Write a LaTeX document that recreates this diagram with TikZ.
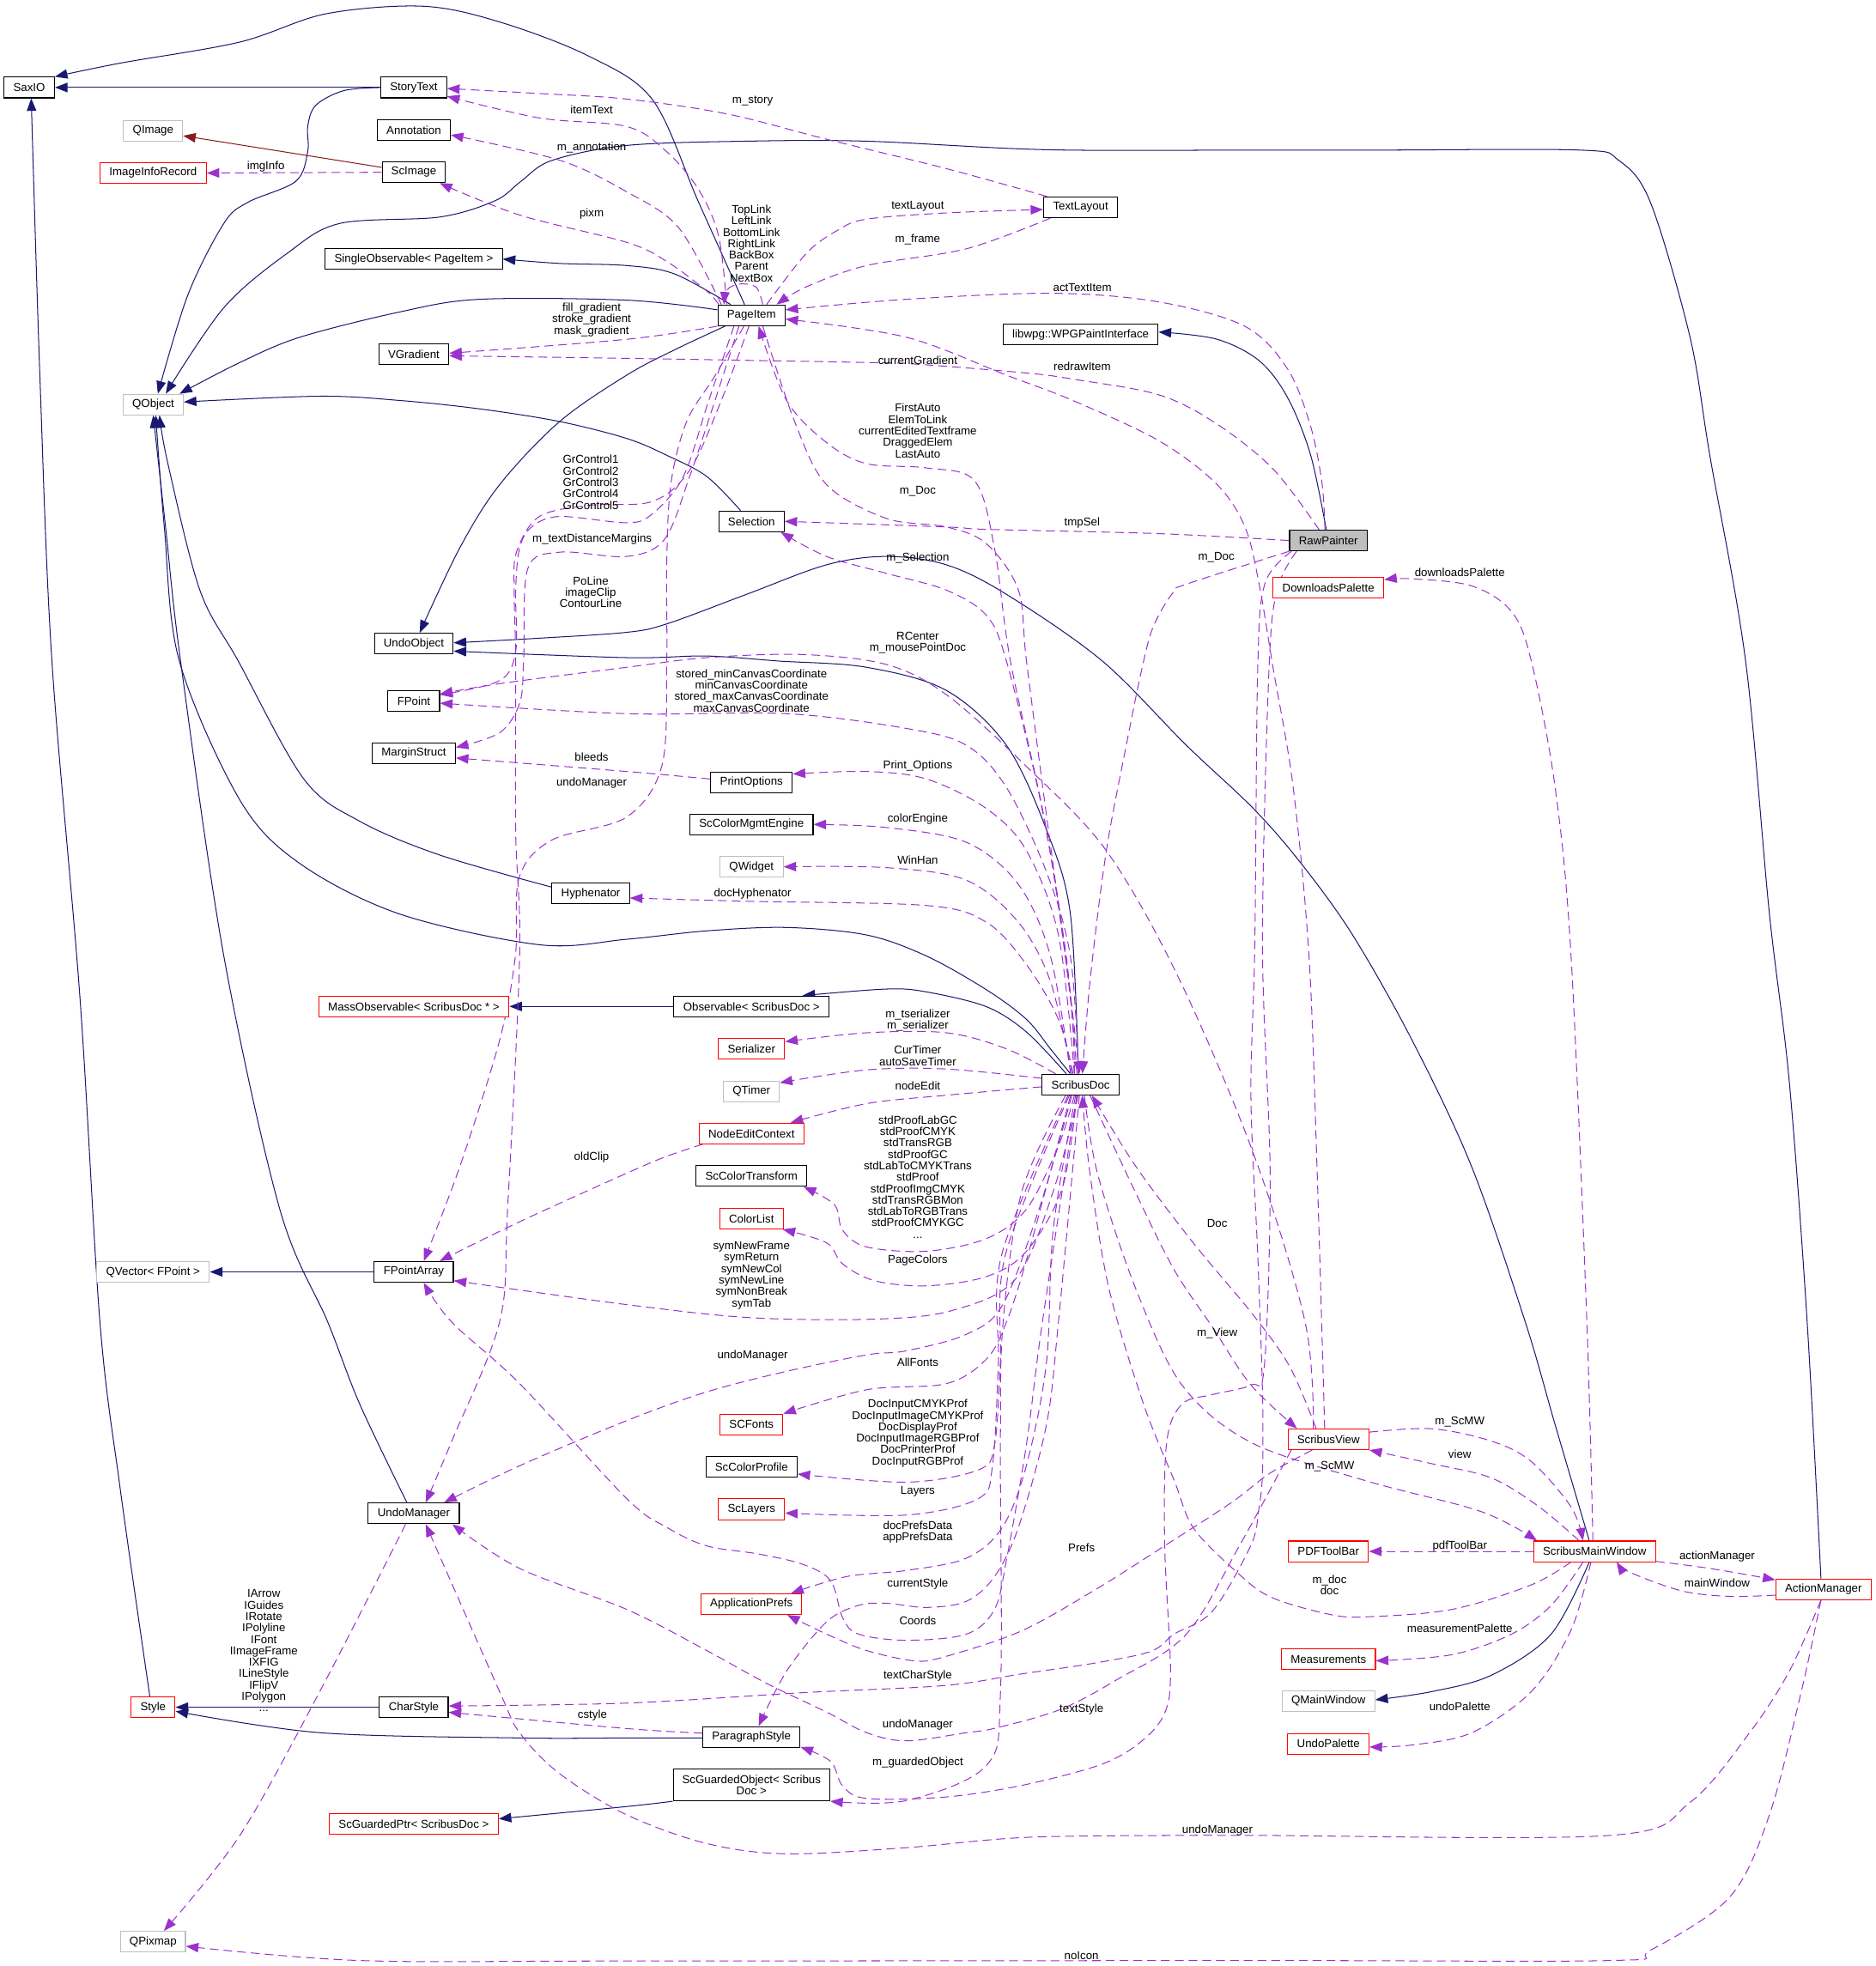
\documentclass[tikz,border=0pt]{standalone}
\usepackage{fontspec}
\setmainfont{Liberation Sans}
\usetikzlibrary{arrows.meta}
\definecolor{inhc}{HTML}{191970}
\definecolor{usec}{HTML}{9A32CD}
\definecolor{privc}{HTML}{8B1A1A}
\definecolor{grayb}{HTML}{BFBFBF}
\pgfdeclarelayer{edgelayer}
\pgfsetlayers{edgelayer,main}
\newcommand{\dgfont}{\fontsize{9.1}{9.1}\selectfont}
\begin{document}
\begin{tikzpicture}[x=1pt,y=-1pt,
  nbox/.style={draw=black,line width=0.75pt,minimum height=16.5pt,inner sep=0pt,font=\dgfont,fill=white},
  rbox/.style={nbox,draw=red,line width=0.7pt},
  gbox/.style={nbox,draw=grayb,line width=0.7pt},
  arrtip/.style={-{Triangle[length=10pt,width=7.5pt]}},
  inh/.style={draw=inhc,line width=0.7pt,arrtip},
  prv/.style={draw=privc,line width=0.7pt,arrtip},
  usage/.style={draw=usec,line width=0.7pt,dash pattern=on 7pt off 4pt,arrtip},
  lbl/.style={font=\dgfont,inner sep=0pt,align=center}]
\useasboundingbox (0,0) rectangle (1496,1568);
% ---------------- nodes
\node[nbox,minimum width=40.2pt] (SaxIO) at (23.3,69.8) {SaxIO};
\node[nbox,minimum width=52.3pt] (StoryText) at (330,69.8) {StoryText};
\node[gbox,minimum width=47.2pt] (QImage) at (122.1,104.4) {QImage};
\node[nbox,minimum width=58.3pt] (Annotation) at (330,103.7) {Annotation};
\node[rbox,minimum width=84.8pt] (ImageInfoRecord) at (122.1,138) {ImageInfoRecord};
\node[nbox,minimum width=50.4pt] (ScImage) at (330,137.4) {ScImage};
\node[nbox,minimum width=141.2pt] (SingleObs) at (330,206.6) {SingleObservable< PageItem >};
\node[nbox,minimum width=55.8pt] (VGradient) at (330,282.3) {VGradient};
\node[gbox,minimum width=48.1pt] (QObject) at (122.2,322.6) {QObject};
\node[nbox,minimum width=62.8pt] (UndoObject) at (330,513.3) {UndoObject};
\node[nbox,minimum width=41.1pt] (FPoint) at (330,559) {FPoint};
\node[nbox,minimum width=66.3pt] (MarginStruct) at (330,600.7) {MarginStruct};
\node[nbox,minimum width=61.8pt] (Hyphenator) at (471.1,712.5) {Hyphenator};
\node[rbox,minimum width=151.8pt] (MassObs) at (330,802.7) {MassObservable< ScribusDoc * >};
\node[gbox,minimum width=89.9pt] (QVector) at (122.1,1014.4) {QVector< FPoint >};
\node[nbox,minimum width=63.1pt] (FPointArray) at (330,1014.4) {FPointArray};
\node[nbox,minimum width=72.6pt] (UndoManager) at (330,1207) {UndoManager};
\node[rbox,minimum width=35.1pt] (Style) at (122.1,1361.6) {Style};
\node[nbox,minimum width=54.8pt] (CharStyle) at (330,1361.6) {CharStyle};
\node[rbox,minimum width=134.8pt] (ScGuardedPtr) at (330,1454.6) {ScGuardedPtr< ScribusDoc >};
\node[gbox,minimum width=51.6pt] (QPixmap) at (122.1,1548.6) {QPixmap};
\node[nbox,minimum width=53.5pt] (PageItem) at (599.3,251.5) {PageItem};
\node[nbox,minimum width=52pt] (Selection) at (599.3,415.8) {Selection};
\node[nbox,minimum width=65pt] (PrintOptions) at (599.3,623.9) {PrintOptions};
\node[nbox,minimum width=98.2pt] (ScColorMgmtEngine) at (599.3,657.5) {ScColorMgmtEngine};
\node[gbox,minimum width=50.4pt] (QWidget) at (599.3,691.3) {QWidget};
\node[nbox,minimum width=123.7pt] (Observable) at (599.3,802.7) {Observable< ScribusDoc >};
\node[rbox,minimum width=52.9pt] (Serializer) at (599.3,836.4) {Serializer};
\node[gbox,minimum width=44.6pt] (QTimer) at (599.3,870.5) {QTimer};
\node[rbox,minimum width=83.8pt] (NodeEditContext) at (599.3,904) {NodeEditContext};
\node[nbox,minimum width=88.3pt] (ScColorTransform) at (599.3,937.9) {ScColorTransform};
\node[rbox,minimum width=51pt] (ColorList) at (599.3,971.9) {ColorList};
\node[rbox,minimum width=50pt] (SCFonts) at (599.3,1136.1) {SCFonts};
\node[nbox,minimum width=72.7pt] (ScColorProfile) at (599.3,1169.8) {ScColorProfile};
\node[rbox,minimum width=52.9pt] (ScLayers) at (599.3,1203.7) {ScLayers};
\node[rbox,minimum width=80.3pt] (ApplicationPrefs) at (599.3,1279.4) {ApplicationPrefs};
\node[nbox,minimum width=77.4pt] (ParagraphStyle) at (599.3,1385.3) {ParagraphStyle};
\node[nbox,minimum width=124.9pt,minimum height=25.2pt,align=center] (ScGuardedObject) at (599.3,1423.6) {ScGuardedObject< Scribus\\Doc >};
\node[nbox,minimum width=59pt] (TextLayout) at (861.8,165.3) {TextLayout};
\node[nbox,minimum width=123.6pt] (libwpg) at (861.8,266.8) {libwpg::WPGPaintInterface};
\node[nbox,minimum width=61.5pt] (ScribusDoc) at (861.8,865) {ScribusDoc};
\node[nbox,fill=grayb,minimum width=62pt] (RawPainter) at (1059.4,431.1) {RawPainter};
\node[rbox,minimum width=88.3pt] (DownloadsPalette) at (1059.4,468.6) {DownloadsPalette};
\node[rbox,minimum width=64.6pt] (ScribusView) at (1059.4,1147.9) {ScribusView};
\node[rbox,minimum width=63.9pt] (PDFToolBar) at (1059.4,1237.3) {PDFToolBar};
\node[rbox,minimum width=75pt] (Measurements) at (1059.4,1323.3) {Measurements};
\node[gbox,minimum width=74.1pt] (QMainWindow) at (1059.4,1356.7) {QMainWindow};
\node[rbox,minimum width=64.9pt] (UndoPalette) at (1059.4,1390.7) {UndoPalette};
\node[rbox,minimum width=97.2pt] (SMW) at (1271.7,1237.3) {ScribusMainWindow};
\node[rbox,minimum width=76pt] (ActionManager) at (1454.2,1267.6) {ActionManager};
% ---------------- edges
\begin{pgfonlayer}{edgelayer}
% inheritance
\draw[inh] (StoryText.west) -- (SaxIO.east);
\draw[inh] plot[smooth,tension=.55] coordinates {([xshift=-5.5pt]PageItem.north) (557,161) (520.5,79.7) (470,45) (400,18) (338,5) (260,11) (191,33.6) (95.6,50.4) (SaxIO.north east)};
\draw[inh] plot[smooth,tension=.55] coordinates {(StoryText.west) (274.1,72.3) (251.8,84) (245.4,100.9) (245.4,121) (235.9,144.6) (197.6,161.4) (178.5,178.2) (149.8,235.3) ([xshift=3.7pt]QObject.north)};
\draw[inh] plot[smooth,tension=.55] coordinates {([xshift=-2pt]ActionManager.north) (1441.2,1054.4) (1427,863.4) (1411.1,728.9) (1392.1,527.2) (1363.6,363.4) (1347.8,269) (1316.2,161.4) (1290.8,127.8) (1260,119.7) (1100,119.7) (999.6,119.7) (834.5,119.4) (691,112.6) (595.4,112.6) (499.8,116) (440,128) (415,145) (395,160) (350.6,173.1) (271,178.2) (229.5,201.7) (178.5,245.4) ([xshift=10pt]QObject.north)};
\draw[inh] plot[smooth,tension=.55] coordinates {([yshift=4.4pt]PageItem.west) (499.8,239.4) (382.5,238.7) (318.8,248.8) (239,269) (191.3,289.1) ([xshift=21pt]QObject.north)};
\draw[inh] plot[smooth,tension=.55] coordinates {([xshift=-8.7pt]Selection.north) (563.5,379.9) (531.7,363.1) (499.8,349.7) (446.3,336.2) (382.5,326.1) (318.8,319.4) (255,316) ([yshift=2pt]QObject.east)};
\draw[inh] plot[smooth,tension=.55] coordinates {([yshift=5pt]Hyphenator.west) (350.6,681.9) (286.9,655) (242.3,621.3) (190,527.2) (159.4,470.7) (133.9,369.8) ([xshift=5pt]QObject.south)};
\draw[inh] plot[smooth,tension=.55] coordinates {([xshift=-8.2pt]ScribusDoc.north) (837.7,836.5) (818.6,813) (786.7,789.4) (738.9,762.5) (691.1,745.7) (627.3,739.7) (563.6,742.4) (499.8,749.1) (430.3,753.5) (318.8,729) (239,688.6) (191.3,638.1) (143,527.2) (131,420) ([xshift=2pt]QObject.south)};
\draw[inh] plot[smooth,tension=.55] coordinates {([xshift=-5.5pt]UndoManager.north) (286.9,1119.9) (261.4,1054.4) (223.1,964.3) (178.5,762.5) (144,527.2) (132,420) (QObject.south)};
\draw[inh] plot[smooth,tension=.55] coordinates {([xshift=-16.6pt]PageItem.north) (538,218.5) (499.8,211.8) (446.3,210.1) (SingleObs.east)};
\draw[inh] plot[smooth,tension=.55] coordinates {([xshift=-21pt]PageItem.south) (538,279) (499.8,299.2) (446.3,336.2) (398.4,386.6) (366.6,437.1) ([xshift=4.7pt]UndoObject.north)};
\draw[inh] plot[smooth,tension=.55] coordinates {([xshift=-1.8pt]ScribusDoc.north) (853.6,728.9) (834.5,661.7) (802.6,594.4) (754.8,550.7) (691.1,532.2) (620.9,527.2) (563.5,523.2) (499.8,524.5) ([yshift=-6pt]UndoObject.east)};
\draw[inh] plot[smooth,tension=.55] coordinates {([xshift=-4.3pt]SMW.north) (1240.2,1136.3) (1216.4,1054.4) (1173.7,930.7) (1126.2,829.8) (1078.7,745.7) (1037.6,688.6) (999.6,644.9) (946.1,594.4) (879.1,527.2) (802.6,474) (754.8,450.5) (706.9,443.8) (659,450.5) (595.4,474) (531.7,497.6) (499.8,504.3) (430,509) ([yshift=0.6pt]UndoObject.east)};
\draw[inh] plot[smooth,tension=.55] coordinates {([xshift=-11.4pt]ScribusDoc.north) (818.6,823.1) (786.7,802.9) (738.9,791.1) (707,788.8) ([xshift=40.7pt]Observable.north)};
\draw[inh] (Observable.west) -- (MassObs.east);
\draw[inh] (FPointArray.west) -- (QVector.east);
\draw[prv] ([yshift=3.9pt]ScImage.west) -- ([yshift=-3.9pt]QImage.east);
\draw[inh] plot[smooth,tension=.55] coordinates {([xshift=-1.7pt]RawPainter.north) (1045.2,362.9) (1026.9,317.2) (1004.1,287.6) (969.9,270.4) ([yshift=2pt]libwpg.east)};
\draw[inh] plot[smooth,tension=.55] coordinates {([xshift=-2.6pt]Style.north) (95.6,1185.4) (79.7,1054.4) (63.8,796.2) (41.4,527.2) (31.9,302.6) ([xshift=1.6pt]SaxIO.south)};
\draw[inh] (CharStyle.west) -- (Style.east);
\draw[inh] plot[smooth,tension=.55] coordinates {([yshift=-0.8pt]ParagraphStyle.west) (499.8,1386.1) (414.4,1386.1) (255,1381.9) ([yshift=-3.2pt]Style.east)};
\draw[inh] plot[smooth,tension=.55] coordinates {(ScGuardedObject.south west) (499.8,1440.8) ([yshift=4pt]ScGuardedPtr.east)};
\draw[inh] plot[smooth,tension=.55] coordinates {([xshift=-4.3pt]SMW.south) (1237,1303.3) (1189.5,1336) (1142,1349.1) ([yshift=1pt]QMainWindow.east)};
% usage
\draw[usage] plot[smooth,tension=.55] coordinates {([xshift=-19.8pt]PageItem.north) (573.1,188.3) (557.2,151.3) (531.7,121) (499.8,100.9) (430.3,94.1) ([yshift=-7pt]StoryText.east)};
\draw[usage] plot[smooth,tension=.55] coordinates {([xshift=3pt]TextLayout.north west) (754.8,134.5) (659,111) (579.5,90.8) (499.8,79) (430.3,74.6) ([yshift=-0.8pt]StoryText.east)};
\draw[usage] (ScImage.west) -- (ImageInfoRecord.east);
\draw[usage] plot[smooth,tension=.55] coordinates {([xshift=-24pt]PageItem.north) (541.2,181.6) (499.8,153) (446.3,127.8) ([yshift=-3.9pt]Annotation.east)};
\draw[usage] plot[smooth,tension=.55] coordinates {([xshift=1pt]PageItem.north west) (563.5,232) (531.7,208.5) (499.8,193.3) (414.4,171.5) ([xshift=-5pt]ScImage.south east)};
\draw[usage] plot[smooth,tension=.55] coordinates {([xshift=9pt]PageItem.north) (603,229) (590,226.5) (580,231) ([xshift=-22pt]PageItem.north)};
\draw[usage] plot[smooth,tension=.55] coordinates {([xshift=12pt]PageItem.north) (643.4,201.7) (668.8,183.2) (691.1,174.8) (754.8,169.8) ([yshift=-1.8pt]TextLayout.west)};
\draw[usage] plot[smooth,tension=.55] coordinates {([xshift=-24pt]TextLayout.south) (770.7,198.4) (691.1,211.8) (643.4,228.6) ([xshift=20pt]PageItem.north)};
\draw[usage] plot[smooth,tension=.55] coordinates {([xshift=-2.8pt]RawPainter.north) (1054.3,385.7) (1045.2,340) (1026.9,294.4) (992.7,260.2) (924.2,240.8) (839.8,233.9) (722.9,238.7) ([yshift=4.4pt]PageItem.east)};
\draw[usage] plot[smooth,tension=.55] coordinates {([xshift=-3pt]ScribusView.north) (1050.3,930.7) (1043.9,762.5) (1031.3,628) (1015.5,534) (1004.1,465.6) (992.7,419.9) (969.9,385.7) (924.2,351.5) (855.8,319.5) (802.6,299.2) (722.9,269) ([yshift=-3pt]PageItem.east)};
\draw[usage] plot[smooth,tension=.55] coordinates {([xshift=-7.4pt]RawPainter.north) (1015.5,374.3) (969.9,337.8) (924.2,314.9) (855.8,302.4) (818.6,297.5) (731.9,290.5) (691.1,289.1) (499.8,285.8) ([yshift=-1.5pt]VGradient.east)};
\draw[usage] plot[smooth,tension=.55] coordinates {(PageItem.south west) (499.8,270.6) ([yshift=0.6pt]VGradient.east)};
\draw[usage] plot[smooth,tension=.55] coordinates {(RawPainter.west) (924.2,425.6) (787.3,422.2) (754.8,420.3) (Selection.east)};
\draw[usage] plot[smooth,tension=.55] coordinates {(RawPainter.south west) (947.1,465.6) (935.6,472.4) (919.7,499.8) (910.5,534) (898.2,594.4) (882.3,678.5) (869.6,779.4) ([xshift=1.4pt]ScribusDoc.north)};
\draw[usage] plot[smooth,tension=.55] coordinates {([xshift=-5pt]ScribusDoc.north) (853.6,796.2) (834.5,661.7) (805.8,527.2) (793.1,437.1) (777.1,383.3) (738.9,373.2) (691.1,369.8) (659.2,353) (627.3,319.4) ([xshift=5.7pt]PageItem.south)};
\draw[usage] plot[smooth,tension=.55] coordinates {([xshift=9pt]PageItem.south) (633.7,336.2) (659.2,386.6) (707,413.5) (754.8,420.3) (786.7,433.7) (812.2,470.7) (818.6,527.2) (834.5,650) (852,780) ([xshift=-1pt]ScribusDoc.north)};
\draw[usage] plot[smooth,tension=.55] coordinates {([xshift=-3pt]ScribusDoc.north) (850,760) (830,640) (802.6,527.2) (786.7,490.9) (754.8,470.7) (707,457.3) (659.2,443.8) ([xshift=-3pt]Selection.south east)};
\draw[usage] plot[smooth,tension=.55] coordinates {([xshift=-14pt]PageItem.south) (565,320) (545,380) (520,410) (499.8,416.9) (446.3,411.9) (424,420.3) (414.4,437.1) (411.2,470.7) (411.2,520) (398,543) ([yshift=4.9pt]FPoint.east)};
\draw[usage] plot[smooth,tension=.55] coordinates {([xshift=-10pt]PageItem.south) (570,320) (550,380) (530,430) (499.8,443.8) (446.3,440.4) (420.8,453.9) (417.6,527.2) (414.4,560.8) (398.4,584.4) ([yshift=4.6pt]MarginStruct.east)};
\draw[usage] plot[smooth,tension=.55] coordinates {([xshift=-6pt]PageItem.south) (570,300) (547.6,336.2) (535,386) (531.7,450) (531.7,527.2) (528,610) (499.8,651.6) (440,670) (414,700) (411,762.5) (398.4,829.8) (366.6,930.7) ([xshift=7.9pt]FPointArray.north)};
\draw[usage] plot[smooth,tension=.55] coordinates {([xshift=-2pt]PageItem.south) (575,320) (550,375) (520,400) (470,403) (430,412) (412,440) (410,470) (411.2,527.2) (411.2,661.7) (414.4,762.5) (404.8,964.3) (398.4,1054.4) (360,1150) ([xshift=9.5pt]UndoManager.north)};
\draw[usage] plot[smooth,tension=.55] coordinates {([xshift=-12pt]ScribusView.north) (1040.8,1054.4) (999.6,920) (939.7,779.4) (882.3,678.5) (818.6,611.3) (754.8,554.1) (707,530) (640,522) (563.6,524.5) (499.8,532.2) (400,545) ([yshift=5.5pt]FPoint.east)};
\draw[usage] plot[smooth,tension=.55] coordinates {([xshift=-1.5pt]ScribusDoc.north) (853.6,762.5) (834.5,695.3) (802.6,628) (770.7,594.4) (723,581) (627.3,569.2) (499.8,569.2) ([yshift=-1.8pt]FPoint.east)};
\draw[usage] plot[smooth,tension=.55] coordinates {([yshift=2.6pt]PrintOptions.west) (499.8,615.3) ([yshift=-3.8pt]MarginStruct.east)};
\draw[usage] plot[smooth,tension=.55] coordinates {([xshift=-5pt]ScribusDoc.north) (844.1,745.7) (818.6,678.5) (786.7,644.9) (738.9,621.3) (691.1,615.3) ([yshift=6.6pt]PrintOptions.east)};
\draw[usage] plot[smooth,tension=.55] coordinates {([xshift=-8pt]ScribusDoc.north) (837.7,762.5) (812.2,705.4) (770.7,671.8) (707,660) (ScColorMgmtEngine.east)};
\draw[usage] plot[smooth,tension=.55] coordinates {([xshift=-7pt]ScribusDoc.north) (837.7,782.7) (812.2,735.6) (770.7,702) (707,692) (QWidget.east)};
\draw[usage] plot[smooth,tension=.55] coordinates {([xshift=-6pt]ScribusDoc.north) (844.1,813) (818.6,769.3) (786.7,735.6) (738.9,722.2) (595.4,718.8) ([yshift=-3.7pt]Hyphenator.east)};
\draw[usage] plot[smooth,tension=.55] coordinates {([xshift=-20pt]ScribusDoc.north) (802.6,836.5) (754.8,823.7) (691.1,823.7) ([yshift=5.6pt]Serializer.east)};
\draw[usage] plot[smooth,tension=.55] coordinates {([yshift=5pt]ScribusDoc.west) (754.8,852.6) (691.1,853.3) ([yshift=7pt]QTimer.east)};
\draw[usage] plot[smooth,tension=.55] coordinates {([yshift=-1.8pt]ScribusDoc.west) (754.8,873.5) (691.1,880.2) ([xshift=31.2pt]NodeEditContext.north)};
\draw[usage] plot[smooth,tension=.55] coordinates {([xshift=-38.9pt]NodeEditContext.south) (531.7,922.2) (499.8,935.7) (414.4,974.4) ([xshift=20.6pt]FPointArray.north)};
\draw[usage] plot[smooth,tension=.55] coordinates {([xshift=-5pt]ScribusDoc.south) (844.1,913.9) (818.6,964.3) (786.7,987.8) (738.9,997.9) (691.1,994.5) (671.9,981.1) (665.5,960.9) ([xshift=-3pt]ScColorTransform.south east)};
\draw[usage] plot[smooth,tension=.55] coordinates {([xshift=-3pt]ScribusDoc.south) (847.2,947.5) (818.6,997.9) (786.7,1018.1) (738.9,1025.5) (697.4,1021.4) (671.9,1008) (659.2,991.2) ([xshift=-1pt]ColorList.south east)};
\draw[usage] plot[smooth,tension=.55] coordinates {([xshift=-2pt]ScribusDoc.south) (840,950) (810,1020) (760,1045) (700,1052) (600,1051) (499.8,1040.5) ([yshift=-7pt]FPointArray.east)};
\draw[usage] plot[smooth,tension=.55] coordinates {([xshift=-7pt]ScribusDoc.south) (830,960) (800,1040) (770.7,1064.2) (722.9,1077.3) (691.1,1080.6) (627.3,1093.7) (563.6,1110.1) (499.8,1133) (414.4,1169) ([xshift=-12.5pt]UndoManager.north east)};
\draw[usage] plot[smooth,tension=.55] coordinates {([xshift=-8pt]ScribusDoc.south) (820,1000) (802.6,1054.4) (786.7,1083.9) (754.8,1103.5) (691.1,1108.4) (SCFonts.north east)};
\draw[usage] plot[smooth,tension=.55] coordinates {([xshift=-9pt]ScribusDoc.south) (802,1000) (797.8,1087.1) (793.1,1152.6) (780.3,1172.3) (722.9,1182.1) ([yshift=-5.8pt]ScColorProfile.east)};
\draw[usage] plot[smooth,tension=.55] coordinates {([xshift=-10pt]ScribusDoc.south) (799,1000) (796.2,1087.1) (791.5,1169) (780.3,1195.2) (722.9,1208.3) ([yshift=-3pt]ScLayers.east)};
\draw[usage] plot[smooth,tension=.55] coordinates {([xshift=-4pt]ScribusDoc.south) (840,980) (834.5,1087.1) (818.5,1169) (799.4,1218.1) (770.7,1242.7) (722.9,1252.5) (675.1,1257.4) ([xshift=-9pt]ApplicationPrefs.north east)};
\draw[usage] plot[smooth,tension=.55] coordinates {([xshift=-1pt]ScribusDoc.south) (844.1,1054.4) (834.5,1136.3) (812.2,1218.1) (793.1,1257.4) (770.7,1277.1) (738.9,1282) (707,1278.7) (684.7,1280.4) (659.2,1293.5) (627.3,1332.8) ([xshift=5.7pt]ParagraphStyle.north)};
\draw[usage] plot[smooth,tension=.55] coordinates {([xshift=-3pt]ScribusDoc.south) (831.3,1054.4) (818.5,1152.6) (802.6,1244.4) (793.1,1283.6) (770.7,1303.3) (722.9,1308.2) (684.7,1303.3) (672,1290.2) (662.4,1260.7) (640.1,1247.6) (605,1239.4) (563.5,1232.9) (531.7,1218.1) (499.8,1195.2) (414.4,1103.5) (360.2,1054.4) ([xshift=7.9pt]FPointArray.south)};
\draw[usage] plot[smooth,tension=.55] coordinates {([xshift=-12.9pt]ScribusView.south) (1012.9,1174.9) (982.3,1198.2) (936.5,1227.9) (875.4,1266.7) (814.2,1300.9) (753.1,1321.4) (729.3,1324.6) (691.1,1316.4) (659.2,1303.3) ([xshift=-12pt]ApplicationPrefs.south east)};
\draw[usage] plot[smooth,tension=.55] coordinates {([xshift=2pt]RawPainter.south west) (1008.7,465.6) (1003,534) (1000.7,753) (997.6,875) (1003,1000) (1006.8,1110) (1006.8,1175) (1003.7,1205) (997.6,1232.4) (967,1284.9) (936.5,1303.2) (918.1,1316.9) (875.4,1326) (814.2,1335.1) (753.1,1344.3) (640,1350) (499.8,1358.3) ([yshift=1pt]CharStyle.east)};
\draw[usage] plot[smooth,tension=.55] coordinates {([xshift=3pt]ScribusView.south west) (990,1230) (946.1,1303.3) (890.6,1339.7) (844.8,1363.7) (792.8,1378.5) (770.7,1381.9) (722.9,1388.4) (691.1,1381.9) (659.2,1365.5) (611.4,1342.6) (563.6,1316.4) (499.8,1283.6) (414.4,1250.9) ([xshift=-6pt]UndoManager.south east)};
\draw[usage] plot[smooth,tension=.55] coordinates {([xshift=6pt]RawPainter.south west) (1018.6,470) (1012,534) (1006.8,753.1) (1012.9,936.5) (1008.3,1089.3) (997.6,1104.6) (967.1,1112.2) (942.6,1119.9) (930.4,1150.4) (928.8,1232.4) (933.5,1335) (927.3,1369.4) (905.9,1392.2) (875.4,1408.2) (814.2,1424.1) (753.1,1433.3) (691.1,1434.3) (672,1424.4) (662.4,1404.8) ([yshift=-8pt]ParagraphStyle.east)};
\draw[usage] plot[smooth,tension=.55] coordinates {([xshift=-12pt]ScribusDoc.south) (815,950) (800,1054.4) (797.8,1150) (797.9,1349.1) (786.7,1408) (722.9,1436) (ScGuardedObject.south east)};
\draw[usage] plot[smooth,tension=.55] coordinates {([yshift=3pt]ParagraphStyle.west) (499.8,1378.6) ([yshift=-4pt]CharStyle.east)};
\draw[usage] plot[smooth,tension=.55] coordinates {([xshift=-2pt]ActionManager.south) (1427,1332.8) (1395.3,1381.9) (1347.8,1437.5) (1284.5,1463.8) (999.6,1463.8) (946.1,1463.8) (818.5,1465.4) (722.9,1473.6) (627.3,1478.5) (563.6,1470.3) (499.8,1447.4) (446.3,1414.6) (414.4,1381.9) (398.4,1349.1) ([xshift=9.5pt]UndoManager.south)};
\draw[usage] plot[smooth,tension=.55] coordinates {([xshift=-6.5pt]UndoManager.south) (255,1349.1) (191.3,1463.8) ([xshift=8.6pt]QPixmap.north)};
\draw[usage] plot[smooth,tension=.55] coordinates {([xshift=-2pt]ActionManager.south) (1436.5,1349.1) (1411.1,1447.4) (1379.5,1512.9) (1316.2,1555.4) (1284.5,1563.6) (999.6,1563.6) (499.8,1564) (286.9,1563.6) ([yshift=-3.6pt]QPixmap.east)};
\draw[usage] plot[smooth,tension=.55] coordinates {([xshift=7.5pt]ScribusDoc.south) (905.9,951.8) (936.5,1012.9) (967.1,1058.7) (997.6,1104.6) ([xshift=-25pt]ScribusView.north)};
\draw[usage] plot[smooth,tension=.55] coordinates {([xshift=-9.8pt]ScribusView.north) (1028.2,1089.3) (997.6,1046.5) (951.8,991.5) (905.9,930.4) ([xshift=9pt]ScribusDoc.south)};
\draw[usage] plot[smooth,tension=.55] coordinates {([xshift=-19pt]SMW.south) (1221.2,1264) (1157.9,1283.6) (1089.3,1289.5) (1058.7,1287.2) (1012.9,1273.5) (985.4,1253) (951.8,1218.7) (936.5,1181) (912,1119.9) (884.5,1028.2) (869.3,936.5) ([xshift=1.3pt]ScribusDoc.south)};
\draw[usage] plot[smooth,tension=.55] coordinates {([xshift=3pt]ScribusDoc.south) (875.4,936.5) (905.9,1028.2) (942.6,1104.6) (997.6,1150.4) (1089.3,1181) (1181,1205.5) ([xshift=3pt]SMW.north west)};
\draw[usage] plot[smooth,tension=.55] coordinates {([yshift=5.7pt]ScribusView.east) (1142,1139.5) (1189.5,1149.4) (1221.2,1165.7) (1252.9,1201.8) ([xshift=-9.3pt]SMW.north)};
\draw[usage] plot[smooth,tension=.55] coordinates {([xshift=-12.5pt]SMW.north) (1227.5,1201.8) (1189.5,1178.8) (1142,1167.4) (ScribusView.south east)};
\draw[usage] (SMW.west) -- (PDFToolBar.east);
\draw[usage] plot[smooth,tension=.55] coordinates {([xshift=-9.3pt]SMW.south) (1237,1280.4) (1205.4,1303.3) (1157.9,1319.7) ([yshift=-1.3pt]Measurements.east)};
\draw[usage] plot[smooth,tension=.55] coordinates {([xshift=-3pt]SMW.south) (1252.9,1300) (1221.2,1349.1) (1173.7,1381.9) (1126.2,1391.7) ([yshift=-2.6pt]UndoPalette.east)};
\draw[usage] plot[smooth,tension=.55] coordinates {([xshift=-1.4pt]SMW.north) (1265.5,1054.4) (1252.9,762.5) (1240.2,628) (1221.2,527.2) (1205.4,487.7) (1173.7,467.3) (1126.2,461.6) ([yshift=6.3pt]DownloadsPalette.east)};
\draw[usage] plot[smooth,tension=.55] coordinates {([yshift=-8pt]SMW.east) (1363.6,1250.9) ([yshift=7.6pt]ActionManager.west)};
\draw[usage] plot[smooth,tension=.55] coordinates {([yshift=-4.6pt]ActionManager.west) (1379.5,1273.2) (1341.5,1268.9) (1300.3,1254.2) ([xshift=17.6pt]SMW.south)};
\end{pgfonlayer}
% ---------------- labels
\node[lbl] (l01) at (471.8,87.4) {itemText};
\node[lbl] (l02) at (600.2,80.7) {m\_story};
\node[lbl] (l03) at (212,132.8) {imgInfo};
\node[lbl] (l04) at (471.8,117.7) {m\_annotation};
\node[lbl] (l05) at (471.8,170.5) {pixm};
\node[lbl] (l06) at (599.3,194.2) {TopLink\\LeftLink\\BottomLink\\RightLink\\BackBox\\Parent\\NextBox};
\node[lbl] (l07) at (731.9,164.7) {textLayout};
\node[lbl] (l08) at (731.9,191.3) {m\_frame};
\node[lbl] (l09) at (863.2,229.6) {actTextItem};
\node[lbl] (l10) at (471.8,255) {fill\_gradient\\stroke\_gradient\\mask\_gradient};
\node[lbl] (l11) at (731.9,287.1) {currentGradient};
\node[lbl] (l12) at (863,292.5) {redrawItem};
\node[lbl] (l13) at (731.9,343.6) {FirstAuto\\ElemToLink\\currentEditedTextframe\\DraggedElem\\LastAuto};
\node[lbl] (l14) at (471.1,384.6) {GrControl1\\GrControl2\\GrControl3\\GrControl4\\GrControl5};
\node[lbl] (l15) at (731.9,391.7) {m\_Doc};
\node[lbl] (l16) at (863,417) {tmpSel};
\node[lbl] (l17) at (472.2,429.7) {m\_textDistanceMargins};
\node[lbl] (l18) at (731.9,444.8) {m\_Selection};
\node[lbl] (l19) at (970,444.7) {m\_Doc};
\node[lbl] (l20) at (1164.2,456.6) {downloadsPalette};
\node[lbl] (l21) at (471.1,472.4) {PoLine\\imageClip\\ContourLine};
\node[lbl] (l22) at (731.9,512.4) {RCenter\\m\_mousePointDoc};
\node[lbl] (l23) at (599.3,550.9) {stored\_minCanvasCoordinate\\minCanvasCoordinate\\stored\_maxCanvasCoordinate\\maxCanvasCoordinate};
\node[lbl] (l24) at (471.8,603.5) {bleeds};
\node[lbl] (l25) at (731.9,610.6) {Print\_Options};
\node[lbl] (l26) at (471.8,624.7) {undoManager};
\node[lbl] (l27) at (731.9,653) {colorEngine};
\node[lbl] (l28) at (731.9,685.6) {WinHan};
\node[lbl] (l29) at (600.2,713.1) {docHyphenator};
\node[lbl] (l30) at (731.9,813.7) {m\_tserializer\\m\_serializer};
\node[lbl] (l31) at (731.9,842) {CurTimer\\autoSaveTimer};
\node[lbl] (l32) at (731.9,866.1) {nodeEdit};
\node[lbl] (l33) at (471.8,923.3) {oldClip};
\node[lbl] (l34) at (731.9,938.7) {stdProofLabGC\\stdProofCMYK\\stdTransRGB\\stdProofGC\\stdLabToCMYKTrans\\stdProof\\stdProofImgCMYK\\stdTransRGBMon\\stdLabToRGBTrans\\stdProofCMYKGC\\...};
\node[lbl] (l35) at (970.7,975.9) {Doc};
\node[lbl] (l36) at (731.9,1005.3) {PageColors};
\node[lbl] (l37) at (599.3,1017.2) {symNewFrame\\symReturn\\symNewCol\\symNewLine\\symNonBreak\\symTab};
\node[lbl] (l38) at (970.7,1063.6) {m\_View};
\node[lbl] (l39) at (600.2,1081.3) {undoManager};
\node[lbl] (l40) at (731.9,1086.8) {AllFonts};
\node[lbl] (l41) at (731.9,1143.2) {DocInputCMYKProf\\DocInputImageCMYKProf\\DocDisplayProf\\DocInputImageRGBProf\\DocPrinterProf\\DocInputRGBProf};
\node[lbl] (l42) at (1164.2,1134) {m\_ScMW};
\node[lbl] (l43) at (1060.3,1169.4) {m\_ScMW};
\node[lbl] (l44) at (1164.2,1159.5) {view};
\node[lbl] (l45) at (731.9,1189.6) {Layers};
\node[lbl] (l46) at (731.9,1221.7) {docPrefsData\\appPrefsData};
\node[lbl] (l47) at (1164.2,1232.9) {pdfToolBar};
\node[lbl] (l48) at (862.5,1234.5) {Prefs};
\node[lbl] (l49) at (1369.4,1241.7) {actionManager};
\node[lbl] (l50) at (731.9,1263) {currentStyle};
\node[lbl] (l51) at (1060.3,1264) {m\_doc\\doc};
\node[lbl] (l52) at (1369.4,1262.7) {mainWindow};
\node[lbl] (l53) at (731.9,1292.8) {Coords};
\node[lbl] (l54) at (1164.2,1298.4) {measurementPalette};
\node[lbl] (l55) at (731.9,1336.7) {textCharStyle};
\node[lbl] (l56) at (1164.2,1361.2) {undoPalette};
\node[lbl] (l57) at (210.4,1316.5) {IArrow\\IGuides\\IRotate\\IPolyline\\IFont\\IImageFrame\\IXFIG\\ILineStyle\\IFlipV\\IPolygon\\...};
\node[lbl] (l58) at (472.4,1367.8) {cstyle};
\node[lbl] (l59) at (862.5,1363.5) {textStyle};
\node[lbl] (l60) at (731.9,1375.3) {undoManager};
\node[lbl] (l61) at (731.9,1405.5) {m\_guardedObject};
\node[lbl] (l62) at (970.9,1459.5) {undoManager};
\node[lbl] (l63) at (862.5,1559.7) {noIcon};
\end{tikzpicture}
\end{document}
